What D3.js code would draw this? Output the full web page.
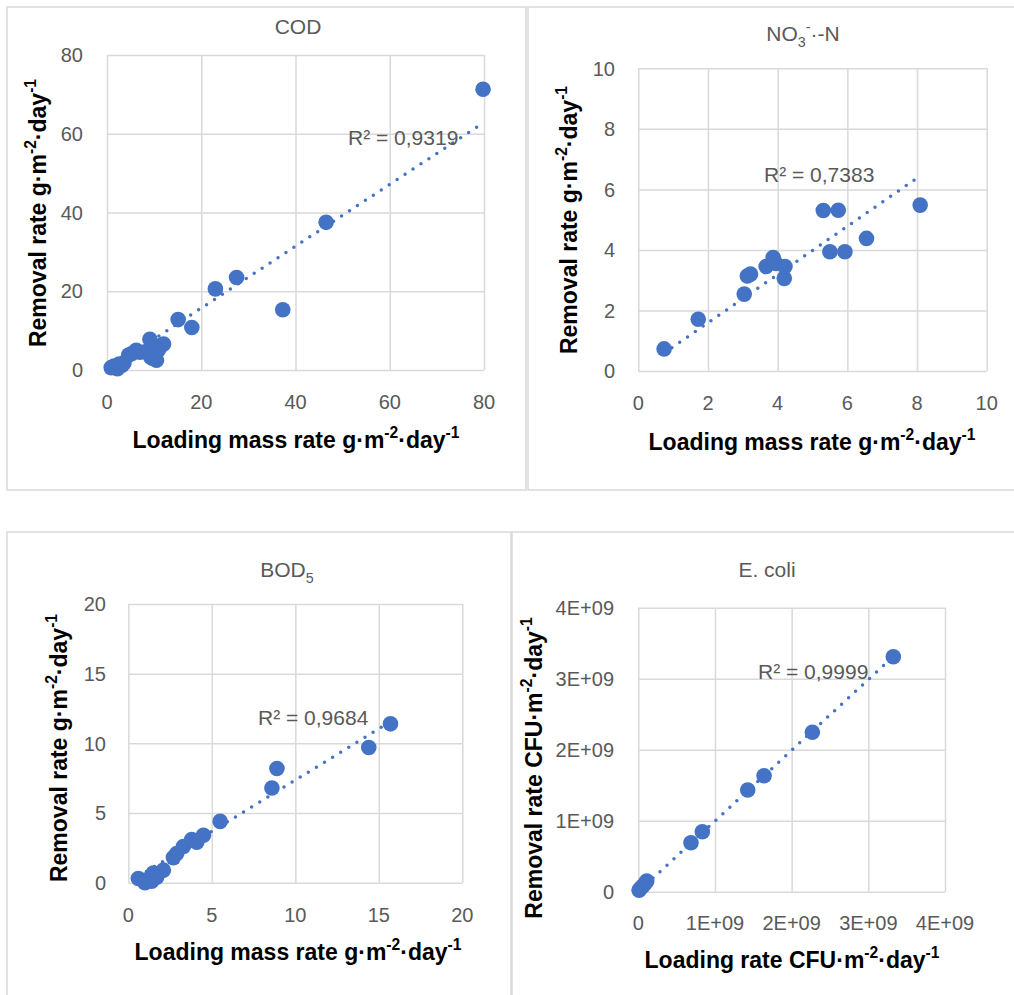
<!DOCTYPE html>
<html>
<head>
<meta charset="utf-8">
<script src="https://cdn.jsdelivr.net/npm/d3@7"></script>
<style>
  body { margin: 0; background: #fff; }
  svg { display: block; font-family: 'Liberation Sans', Arial, sans-serif; }
</style>
</head>
<body>
<svg width="1014" height="995"></svg>
<script>
// values
let codLoad = [0.9, 1.5, 2.2, 2.6, 3.2, 3.6, 4.6, 5.3, 6.2, 7.0, 8.4, 9.1, 9.2, 9.6, 10.5, 10.9, 11.6, 12.0, 15.1, 18.0, 23.0, 27.5, 37.3, 46.5, 79.8]
let codRem  = [0.6, 1.0, 0.3, 1.5, 1.2, 1.8, 3.8, 4.2, 5.0, 4.5, 4.7, 7.8, 3.4, 3.0, 2.5, 5.1, 6.3, 6.6, 12.8, 10.8, 20.6, 23.5, 15.3, 37.5, 71.3]

let no3Load = [0.74, 1.72, 3.04, 3.13, 3.22, 3.67, 3.87, 3.95, 4.21, 4.19, 5.31, 5.74, 5.50, 5.93, 6.55, 8.09]
let no3Rem  = [0.73, 1.71, 2.54, 3.14, 3.20, 3.45, 3.75, 3.55, 3.45, 3.06, 5.30, 5.31, 3.94, 3.94, 4.38, 5.48]

let bodLoad = [0.6, 1.0, 1.1, 1.4, 1.5, 1.7, 2.1, 2.7, 2.9, 3.3, 3.8, 4.1, 4.5, 5.5, 8.6, 8.9, 14.4, 15.7]
let bodRem  = [0.3, 0.0, 0.2, 0.1, 0.7, 0.4, 0.9, 1.8, 2.1, 2.6, 3.1, 2.9, 3.4, 4.4, 6.8, 8.2, 9.7, 11.4]

let ecoliLoad = [0.01e9, 0.03e9, 0.06e9, 0.09e9, 0.11e9, 0.687e9, 0.835e9, 1.427e9, 1.64e9, 2.27e9, 3.326e9]
let ecoliRem  = [0.02e9, 0.05e9, 0.08e9, 0.12e9, 0.15e9, 0.69e9, 0.845e9, 1.432e9, 1.634e9, 2.245e9, 3.31e9]

let codTicks = [0, 20, 40, 60, 80]
let no3Ticks = [0, 2, 4, 6, 8, 10]
let bodTicks = [0, 5, 10, 15, 20]
let ecoliTicks = [0, 1e9, 2e9, 3e9, 4e9]

let r2Labels = ["R² = 0,9319", "R² = 0,7383", "R² = 0,9684", "R² = 0,9999"]

let svg = d3.select("svg")
let blue = "#4472c4"
let grid = "#d9d9d9"
let grey = "#595959"

let massUnit = [{t: "g·m"}, {t: "-2", sup: true}, {t: "·day"}, {t: "-1", sup: true}]
let cfuUnit = [{t: "CFU·m"}, {t: "-2", sup: true}, {t: "·day"}, {t: "-1", sup: true}]
let eFmt = v => v === 0 ? "0" : (v / 1e9) + "E+09"

let panels = [
  {box: [7, 7, 526, 490], plot: [107, 484, 55, 370], xs: codLoad, ys: codRem, ticks: codTicks, fmt: String,
   title: [{t: "COD"}], titlePos: [298, 34],
   xTitle: [{t: "Loading mass rate "}].concat(massUnit), xTitlePos: [296, 448],
   yTitle: [{t: "Removal rate "}].concat(massUnit), yTitlePos: [46, 213],
   r2: r2Labels[0], r2Pos: [348, 145], yLab: 83, xLab: 409},
  {box: [528, 7, 1020, 490], plot: [638.3, 986.7, 68.3, 371], xs: no3Load, ys: no3Rem, ticks: no3Ticks, fmt: String,
   title: [{t: "NO"}, {t: "3", sub: true}, {t: "-", sup: true}, {t: "·-N"}], titlePos: [803, 41],
   xTitle: [{t: "Loading mass rate "}].concat(massUnit), xTitlePos: [812, 450],
   yTitle: [{t: "Removal rate "}].concat(massUnit), yTitlePos: [577, 220],
   r2: r2Labels[1], r2Pos: [764, 182], yLab: 615, xLab: 410},
  {box: [7, 532, 511, 1000], plot: [128.3, 462.3, 604, 882.7], xs: bodLoad, ys: bodRem, ticks: bodTicks, fmt: String,
   title: [{t: "BOD"}, {t: "5", sub: true}], titlePos: [287, 577],
   xTitle: [{t: "Loading mass rate "}].concat(massUnit), xTitlePos: [298, 960],
   yTitle: [{t: "Removal rate "}].concat(massUnit), yTitlePos: [67, 748],
   r2: r2Labels[2], r2Pos: [258, 725], yLab: 106, xLab: 922},
  {box: [512, 532, 1020, 1000], plot: [638.3, 945, 607.7, 891.7], xs: ecoliLoad, ys: ecoliRem, ticks: ecoliTicks, fmt: eFmt,
   title: [{t: "E. coli"}], titlePos: [767, 577],
   xTitle: [{t: "Loading rate "}].concat(cfuUnit), xTitlePos: [792, 968],
   yTitle: [{t: "Removal rate "}].concat(cfuUnit), yTitlePos: [542, 768],
   r2: r2Labels[3], r2Pos: [758, 679], yLab: 614, xLab: 930}
]

// text with sub/superscripts, parts = [{t, sup, sub}]
function richText(sel, parts, size) {
  let shift = 0
  parts.forEach(p => {
    let target = p.sup ? -0.42 * size : p.sub ? 0.3 * size : 0
    sel.append("tspan")
      .attr("dy", target - shift)
      .attr("font-size", (p.sup || p.sub) ? size * 0.68 : size)
      .text(p.t)
    shift = target
  })
}

function drawPanel(p) {
  let g = svg.append("g")

  g.append("rect")
    .attr("x", p.box[0]).attr("y", p.box[1])
    .attr("width", p.box[2] - p.box[0]).attr("height", p.box[3] - p.box[1])
    .attr("fill", "none").attr("stroke", grid).attr("stroke-width", 1.5)

  let lo = p.ticks[0], hi = p.ticks[p.ticks.length - 1]
  let x = d3.scaleLinear().domain([lo, hi]).range([p.plot[0], p.plot[1]])
  let y = d3.scaleLinear().domain([lo, hi]).range([p.plot[3], p.plot[2]])

  // grid lines
  g.append("g")
    .attr("transform", "translate(0," + p.plot[3] + ")")
    .call(d3.axisBottom(x).tickValues(p.ticks).tickSize(-(p.plot[3] - p.plot[2])).tickFormat(""))
    .call(a => a.select(".domain").remove())
    .call(a => a.selectAll("line").attr("stroke", grid).attr("stroke-width", 1.5))
  g.append("g")
    .attr("transform", "translate(" + p.plot[0] + ",0)")
    .call(d3.axisLeft(y).tickValues(p.ticks).tickSize(-(p.plot[1] - p.plot[0])).tickFormat(""))
    .call(a => a.select(".domain").remove())
    .call(a => a.selectAll("line").attr("stroke", grid).attr("stroke-width", 1.5))

  // tick labels
  g.selectAll(".xl").data(p.ticks).enter().append("text")
    .attr("x", d => x(d)).attr("y", p.xLab)
    .attr("text-anchor", "middle").attr("font-size", 20).attr("fill", grey)
    .text(p.fmt)
  g.selectAll(".yl").data(p.ticks).enter().append("text")
    .attr("x", p.yLab).attr("y", d => y(d)).attr("dy", "0.36em")
    .attr("text-anchor", "end").attr("font-size", 20).attr("fill", grey)
    .text(p.fmt)

  // linear trend line with intercept set to 0
  let slope = d3.sum(p.xs, (v, i) => v * p.ys[i]) / d3.sum(p.xs, v => v * v)
  let ext = d3.extent(p.xs)
  g.append("line")
    .attr("x1", x(ext[0])).attr("y1", y(slope * ext[0]))
    .attr("x2", x(ext[1])).attr("y2", y(slope * ext[1]))
    .attr("stroke", blue).attr("stroke-width", 3.5)
    .attr("stroke-linecap", "round").attr("stroke-dasharray", "0 9.5")

  g.selectAll(".dot").data(p.xs).enter().append("circle")
    .attr("cx", d => x(d)).attr("cy", (d, i) => y(p.ys[i]))
    .attr("r", 7.8).attr("fill", blue)

  g.append("text")
    .attr("x", p.r2Pos[0]).attr("y", p.r2Pos[1])
    .attr("font-size", 21).attr("fill", grey)
    .text(p.r2)

  g.append("text")
    .attr("x", p.titlePos[0]).attr("y", p.titlePos[1])
    .attr("text-anchor", "middle").attr("fill", grey)
    .call(t => richText(t, p.title, 21))

  g.append("text")
    .attr("x", p.xTitlePos[0]).attr("y", p.xTitlePos[1])
    .attr("text-anchor", "middle").attr("font-weight", "bold").attr("fill", "#000")
    .call(t => richText(t, p.xTitle, 23))

  g.append("text")
    .attr("transform", "translate(" + p.yTitlePos[0] + "," + p.yTitlePos[1] + ") rotate(-90)")
    .attr("text-anchor", "middle").attr("font-weight", "bold").attr("fill", "#000")
    .call(t => richText(t, p.yTitle, 23))
}

panels.forEach(drawPanel)
</script>
</body>
</html>
